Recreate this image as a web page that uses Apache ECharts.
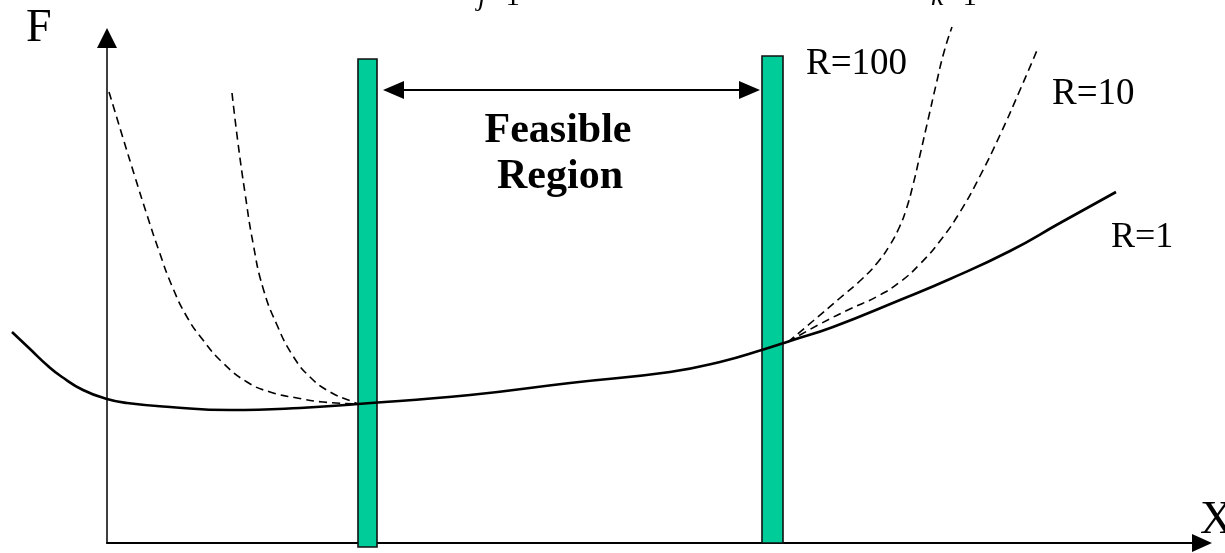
<!DOCTYPE html>
<html>
<head>
<meta charset="utf-8">
<title>Feasible Region</title>
<script src="https://cdn.jsdelivr.net/npm/echarts@6/dist/echarts.min.js"></script>
<style>
  html, body { margin: 0; padding: 0; background: #fff; }
  #chart { width: 1225px; height: 553px; }
</style>
</head>
<body>
<div id="chart"></div>
<script>
// 曲线数据 [x, F]，原点在坐标轴交点
const solidR1 = [
  [-95, 211], [-77, 194], [-59, 177], [-45, 166], [-24, 153], [0, 144], [20, 140],
  [63, 136], [123, 133], [193, 135], [251, 139], [363, 148], [463, 160], [563, 171],
  [613, 181], [658, 194], [683, 202], [726, 216], [793, 243], [843, 264], [903, 292],
  [953, 320], [1009, 351]
];
const dashLeftA = [
  [2, 451], [16, 405], [28, 366], [40, 328], [52, 292], [65, 257], [80, 226],
  [96, 203], [116, 180], [140, 161], [163, 151], [190, 145], [216, 141], [251, 139]
];
const dashLeftB = [
  [125, 450], [131, 400], [138, 350], [146, 300], [156, 255], [170, 218],
  [186, 187], [203, 166], [223, 151], [246, 141], [251, 139]
];
const dashRightR100 = [
  [681, 201], [706, 222], [733, 245], [755, 264], [771, 281], [783, 298], [792, 315],
  [799, 333], [806, 358], [813, 388], [821, 423], [829, 458], [837, 491], [845, 516]
];
const dashRightR10 = [
  [681, 201], [713, 219], [743, 234], [771, 247], [793, 261], [813, 279],
  [833, 302], [853, 331], [873, 367], [893, 408], [913, 453], [931, 495]
];
// 约束边界 [x0, x1, yBottom, yTop]
const bounds = [
  [251, 270, -4, 484],
  [655, 676, 0, 487]
];
// 可行域箭头
const arrowEnds = [[286.5, 453], [642.5, 453]];

const chartDom = document.getElementById('chart');
echarts.dispose(chartDom);
const chart = echarts.init(chartDom);

const serif = '"Liberation Serif", "DejaVu Serif", serif';

function curve(data, dashed) {
  return {
    type: 'line',
    xAxisIndex: 1,
    yAxisIndex: 1,
    data: data,
    smooth: 0.5,
    showSymbol: false,
    clip: false,
    z: dashed ? 3 : 4,
    lineStyle: dashed
      ? { color: '#000', width: 1.6, type: [8, 5] }
      : { color: '#000', width: 2.6 }
  };
}

function label(text, x, y, size, italic) {
  return {
    type: 'text',
    x: x,
    y: y,
    z: 10,
    style: {
      text: text,
      font: (italic ? 'italic ' : '') + size + 'px ' + serif,
      fill: '#000',
      textAlign: 'left',
      textVerticalAlign: 'middle'
    }
  };
}

function boldLine(text, x, y) {
  return {
    type: 'text',
    x: x,
    y: y,
    z: 10,
    style: {
      text: text,
      font: 'bold 42px ' + serif,
      fill: '#000',
      textAlign: 'center',
      textVerticalAlign: 'middle'
    }
  };
}

const hiddenAxis = { type: 'value', show: false, splitLine: { show: false } };

const option = {
  backgroundColor: '#fff',
  animation: false,
  grid: [
    { left: 107, top: 38, right: 23, bottom: 10 },
    { left: 0, top: 38, right: 23, bottom: 10 }
  ],
  xAxis: [
    {
      type: 'value',
      gridIndex: 0,
      min: 0,
      max: 1095,
      axisLine: {
        show: true,
        symbol: ['none', 'triangle'],
        symbolSize: [18, 20],
        lineStyle: { color: '#000', width: 2 }
      },
      axisTick: { show: false },
      axisLabel: { show: false },
      splitLine: { show: false }
    },
    Object.assign({ gridIndex: 1, min: -107, max: 1095 }, hiddenAxis)
  ],
  yAxis: [
    {
      type: 'value',
      gridIndex: 0,
      min: 0,
      max: 505,
      axisLine: {
        show: true,
        symbol: ['none', 'triangle'],
        symbolSize: [20, 20],
        lineStyle: { color: '#000', width: 1.5 }
      },
      axisTick: { show: false },
      axisLabel: { show: false },
      splitLine: { show: false }
    },
    Object.assign({ gridIndex: 1, min: 0, max: 505 }, hiddenAxis)
  ],
  series: [
    {
      type: 'custom',
      xAxisIndex: 1,
      yAxisIndex: 1,
      data: bounds,
      clip: false,
      z: 2,
      encode: { x: [0, 1], y: [2, 3] },
      renderItem: function (params, api) {
        const p0 = api.coord([api.value(0), api.value(3)]);
        const p1 = api.coord([api.value(1), api.value(2)]);
        return {
          type: 'rect',
          shape: { x: p0[0], y: p0[1], width: p1[0] - p0[0], height: p1[1] - p0[1] },
          style: { fill: '#00CC99', stroke: '#111', lineWidth: 1.6 }
        };
      }
    },
    curve(solidR1, false),
    curve(dashLeftA, true),
    curve(dashLeftB, true),
    curve(dashRightR100, true),
    curve(dashRightR10, true),
    {
      type: 'line',
      xAxisIndex: 1,
      yAxisIndex: 1,
      data: [],
      markLine: {
        silent: true,
        symbol: ['triangle', 'triangle'],
        symbolSize: [18, 21],
        label: { show: false },
        lineStyle: { color: '#000', width: 2, type: 'solid' },
        data: [[{ coord: arrowEnds[0] }, { coord: arrowEnds[1] }]]
      }
    }
  ],
  graphic: [
    label('F', 26, 29, 46),
    label('X', 1200, 521, 46),
    label('R=100', 806, 64, 37),
    label('R=10', 1052, 94, 37),
    label('R=1', 1111, 238, 36),
    label('j', 478, -2, 28, true),
    label('=1', 490, -2, 28),
    label('k', 931, -2, 28, true),
    label('=1', 947, -2, 28),
    boldLine('Feasible', 558, 131),
    boldLine('Region', 560, 177)
  ]
};

chart.setOption(option);
</script>
</body>
</html>
